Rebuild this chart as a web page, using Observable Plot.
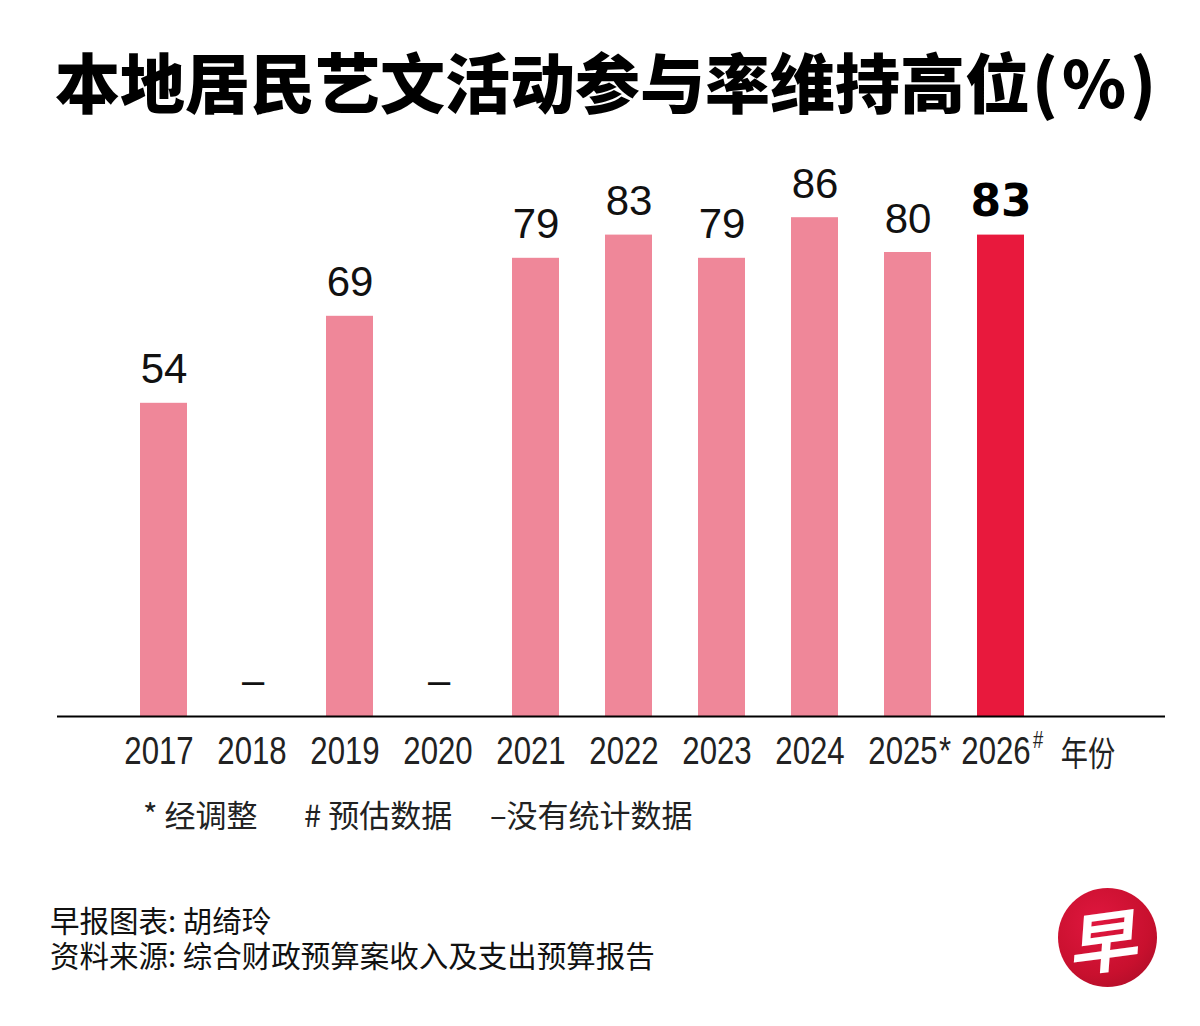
<!DOCTYPE html>
<html>
<head>
<meta charset="utf-8">
<script src="https://cdn.jsdelivr.net/npm/d3@7"></script>
<script src="https://cdn.jsdelivr.net/npm/@observablehq/plot@0.6"></script>
<style>
  body { margin: 0; background: #fff; }
  #wrap { position: relative; width: 1200px; height: 1026px; overflow: hidden; background: #fff; }
  #title { position: absolute; left: 55px; top: 48px; font-family: "Noto Sans CJK SC"; font-weight: 900; font-size: 65px; line-height: 65px; color: #000; white-space: nowrap; }
  #title .pct { letter-spacing: 4px; margin-left: 2px; }
  #chart { position: absolute; left: 0; top: 130px; }
  .note { position: absolute; top: 798px; font-family: "Noto Sans CJK SC"; font-size: 31px; line-height: 31px; color: #222; white-space: nowrap; }
  .foot { position: absolute; left: 50px; font-family: "Noto Sans CJK SC"; font-weight: 400; font-size: 29.5px; line-height: 31px; color: #111; white-space: nowrap; }
  #logo { position: absolute; left: 1058px; top: 888px; width: 99px; height: 99px; border-radius: 50%;
          background: radial-gradient(circle at 40% 35%, #e0173f 0%, #c8102e 60%, #a30c26 100%);
          color: #fff; font-family: "Noto Sans CJK SC"; font-weight: 700; font-size: 68px; line-height: 99px; text-align: center; }
  #logo span { display: inline-block; transform: skewX(-12deg) rotate(-8deg); }
</style>
</head>
<body>
<div id="wrap">
  <div id="title">本地居民艺文活动参与率维持高位<span class="pct">(%)</span></div>
  <div id="chart"></div>
  <div class="note" style="left:143px">* 经调整</div>
  <div class="note" style="left:304px"># 预估数据</div>
  <div class="note" style="left:490px">–没有统计数据</div>
  <div class="foot" style="top:904px">早报图表: 胡绮玲</div>
  <div class="foot" style="top:939px">资料来源: 综合财政预算案收入及支出预算报告</div>
  <div id="logo"><span>早</span></div>
</div>
<script>
const years = ["2017", "2018", "2019", "2020", "2021", "2022", "2023", "2024", "2025", "2026"];
const rates = [54, null, 69, null, 79, 83, 79, 86, 80, 83];
const suffixes = ["", "", "", "", "", "", "", "", "*", "#"];
const unitLabel = "年份";
const highlightYear = "2026";

const rows = years.map((year, i) => ({year, rate: rates[i], suffix: suffixes[i]}));
const present = rows.filter(d => d.rate != null);
const missing = rows.filter(d => d.rate == null);
const regular = present.filter(d => d.year !== highlightYear);
const highlight = present.filter(d => d.year === highlightYear);

const pink = "#ef8799";
const red = "#e8193d";
const sans = "Liberation Sans, Arial, sans-serif";

const chart = Plot.plot({
  width: 1200,
  height: 660,
  marginTop: 6,
  marginBottom: 74,
  marginLeft: 57,
  marginRight: 35,
  x: {domain: [...years, unitLabel], paddingInner: 0.5, paddingOuter: 0.68, align: 0.628, axis: null},
  y: {domain: [0, 100], axis: null},
  marks: [
    Plot.barY(regular, {x: "year", y: "rate", fill: pink}),
    Plot.barY(highlight, {x: "year", y: "rate", fill: red}),
    Plot.ruleY([0], {stroke: "#000", strokeWidth: 2}),
    Plot.text(regular, {x: "year", y: "rate", text: d => String(d.rate), dy: -20, lineAnchor: "bottom",
      fontSize: 42, fontFamily: sans, fill: "#111"}),
    Plot.text(highlight, {x: "year", y: "rate", text: d => String(d.rate), dy: -19, lineAnchor: "bottom",
      fontSize: 44, fontWeight: "bold", fontFamily: "DejaVu Sans", fill: "#000"}),
    Plot.text(missing, {x: "year", frameAnchor: "bottom", text: () => "–", dy: -23, dx: -4, lineAnchor: "bottom",
      fontSize: 40, fontFamily: sans, fill: "#111"}),
    Plot.text(years, {x: d => d, text: d => d, frameAnchor: "bottom", dy: 47, dx: -5, lineAnchor: "bottom",
      fontSize: 39, fontFamily: sans, fill: "#222"}),
    Plot.text(rows.filter(d => d.suffix === "*"), {x: "year", text: "suffix", frameAnchor: "bottom", dy: 47, dx: 31,
      textAnchor: "start", lineAnchor: "bottom", fontSize: 39, fontFamily: sans, fill: "#222"}),
    Plot.text(rows.filter(d => d.suffix === "#"), {x: "year", text: "suffix", frameAnchor: "bottom", dy: 31, dx: 32,
      textAnchor: "start", lineAnchor: "bottom", fontSize: 23, fontFamily: sans, fill: "#222"}),
    Plot.text([unitLabel], {x: d => d, text: d => d, frameAnchor: "bottom", dy: 49, dx: -6, lineAnchor: "bottom",
      fontSize: 34, fontFamily: "Noto Sans CJK SC", fill: "#222"})
  ]
});
document.getElementById("chart").appendChild(chart);

// Condense the axis-label typography (the reference uses a narrow face).
const textGroups = chart.querySelectorAll('g[aria-label="text"]');
[3, 4, 5, 6].forEach(i => {
  const g = textGroups[i];
  if (!g) return;
  g.querySelectorAll("text").forEach(t => {
    const tr = t.getAttribute("transform");
    if (tr) t.setAttribute("transform", tr + " scale(0.8,1)");
  });
});
</script>
</body>
</html>
